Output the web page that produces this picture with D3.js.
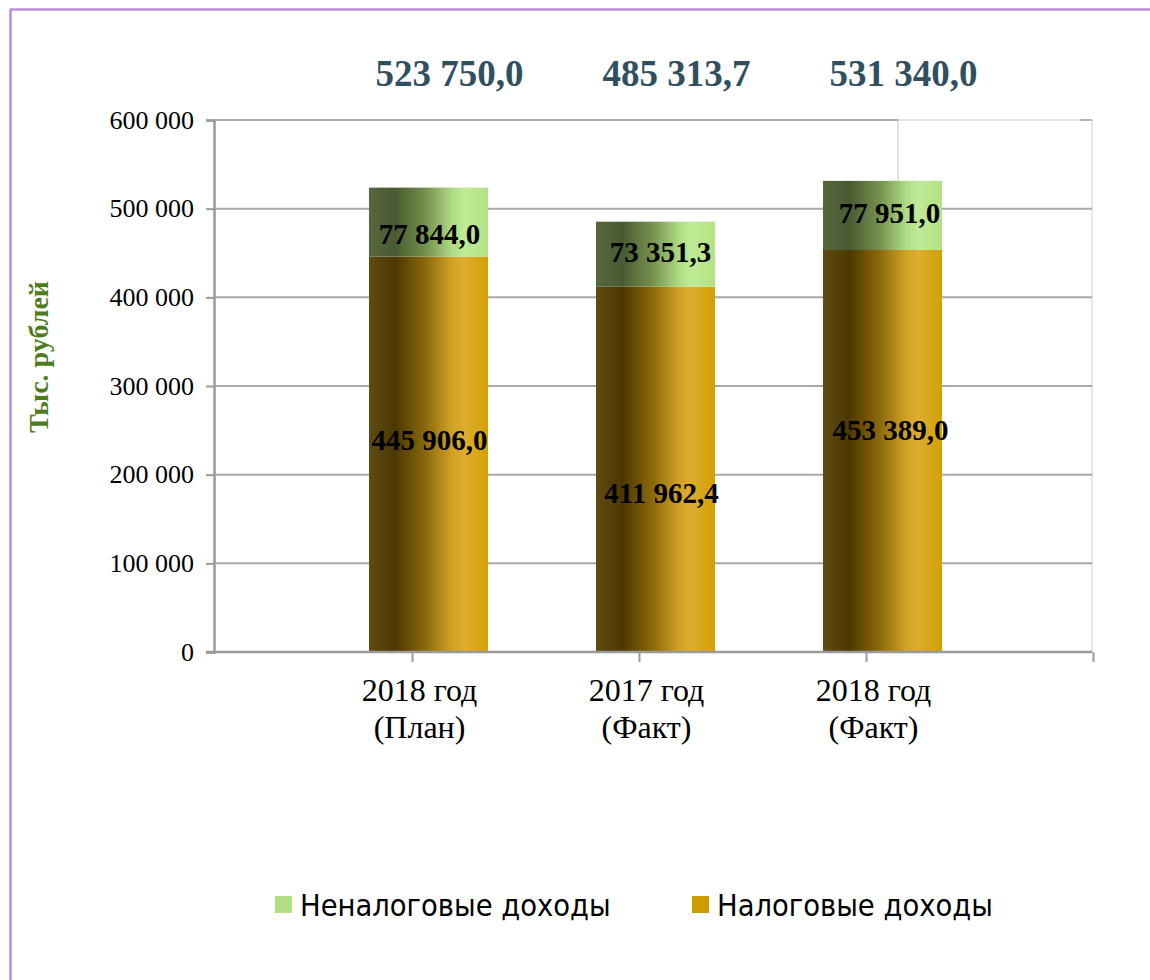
<!DOCTYPE html>
<html>
<head>
<meta charset="utf-8">
<script src="https://cdn.jsdelivr.net/npm/d3@7"></script>
<style>
  html, body { margin: 0; padding: 0; background: #ffffff; }
  svg { display: block; }
</style>
</head>
<body>
<svg id="chart" width="1150" height="980"></svg>
<script>
// ---------- data ----------
const categories = ["2018 год (План)", "2017 год (Факт)", "2018 год (Факт)"];
const categoryLine1 = ["2018 год", "2017 год", "2018 год"];
const categoryLine2 = ["(План)", "(Факт)", "(Факт)"];
const taxIncome = [445906.0, 411962.4, 453389.0];     // Налоговые доходы
const nonTaxIncome = [77844.0, 73351.3, 77951.0];     // Неналоговые доходы
const totals = [523750.0, 485313.7, 531340.0];
const yTickValues = [0, 100000, 200000, 300000, 400000, 500000, 600000];
const seriesNames = ["Неналоговые доходы", "Налоговые доходы"];
const yAxisTitle = "Тыс. рублей";

// ---------- setup ----------
const svg = d3.select("#chart");
const ru = d3.formatLocale({ decimal: ",", thousands: " ", grouping: [3], currency: ["", ""] });
const fmtVal = ru.format(",.1f");
const fmtTick = ru.format(",d");

const plot = { left: 214, right: 1092, top: 120, bottom: 652 };
const y = d3.scaleLinear().domain([0, 600000]).range([plot.bottom, plot.top]);
const x = d3.scaleBand().domain(categories).range([315, 996]).paddingInner(0.4758).paddingOuter(0.2379);
const cx = c => x(c) + x.bandwidth() / 2;

// frame border (purple)
svg.append("line").attr("x1", 10).attr("x2", 1150).attr("y1", 9.5).attr("y2", 9.5)
  .attr("stroke", "#b88dd4").attr("stroke-width", 2.5);
svg.append("line").attr("x1", 10.5).attr("x2", 10.5).attr("y1", 9).attr("y2", 980)
  .attr("stroke", "#b88dd4").attr("stroke-width", 2.5);

// gradients
const defs = svg.append("defs");
function grad(id, stops) {
  const g = defs.append("linearGradient").attr("id", id)
    .attr("x1", "0%").attr("x2", "100%").attr("y1", "0%").attr("y2", "0%");
  stops.forEach(s => g.append("stop").attr("offset", s[0]).attr("stop-color", s[1]));
}
grad("gGreen", [["0%", "#56673c"], ["22%", "#4a5a32"], ["48%", "#76924f"], ["70%", "#b0dc84"], ["80%", "#c0ea97"], ["100%", "#b4e283"]]);
grad("gGold", [["0%", "#5e4b14"], ["22%", "#4c3800"], ["48%", "#8c6a0c"], ["70%", "#d2a227"], ["80%", "#dcad30"], ["100%", "#d5a000"]]);

// back wall light lines (3D remnants)
svg.append("line").attr("x1", 898).attr("x2", plot.right).attr("y1", plot.top).attr("y2", plot.top)
  .attr("stroke", "#e8e5de").attr("stroke-width", 2);
svg.append("line").attr("x1", 898).attr("x2", 898).attr("y1", plot.top).attr("y2", y(totals[2]))
  .attr("stroke", "#e3e0d8").attr("stroke-width", 2);
svg.append("line").attr("x1", plot.right).attr("x2", plot.right).attr("y1", plot.top).attr("y2", plot.bottom)
  .attr("stroke", "#e8e5de").attr("stroke-width", 2);

// gridlines
svg.append("g").selectAll("line").data(yTickValues.filter(v => v > 0)).join("line")
  .attr("x1", plot.left)
  .attr("x2", d => d === 600000 ? 898 : plot.right)
  .attr("y1", d => y(d)).attr("y2", d => y(d))
  .attr("stroke", "#a9a9a9").attr("stroke-width", 2);
svg.append("line").attr("x1", 1080).attr("x2", plot.right).attr("y1", plot.top).attr("y2", plot.top)
  .attr("stroke", "#b5b5b5").attr("stroke-width", 2);

// y axis
const yAxis = d3.axisLeft(y).tickValues(yTickValues).tickFormat(fmtTick).tickSize(8).tickPadding(12);
const gy = svg.append("g").attr("transform", `translate(${plot.left},0)`).call(yAxis);
gy.select(".domain").attr("stroke", "#9a9a9a").attr("stroke-width", 2.5);
gy.selectAll(".tick line").attr("stroke", "#9a9a9a").attr("stroke-width", 2);
gy.selectAll(".tick text").attr("font-family", "'Liberation Serif', 'Times New Roman', serif")
  .attr("font-size", 26).attr("fill", "#000");

// bars
const gb = svg.append("g");
categories.forEach((c, i) => {
  gb.append("rect").attr("x", x(c)).attr("width", x.bandwidth())
    .attr("y", y(taxIncome[i])).attr("height", y(0) - y(taxIncome[i]))
    .attr("fill", "url(#gGold)");
  gb.append("rect").attr("x", x(c)).attr("width", x.bandwidth())
    .attr("y", y(taxIncome[i] + nonTaxIncome[i])).attr("height", y(taxIncome[i]) - y(taxIncome[i] + nonTaxIncome[i]))
    .attr("fill", "url(#gGreen)");
});

// x axis
svg.append("line").attr("x1", plot.left - 8).attr("x2", plot.right).attr("y1", plot.bottom).attr("y2", plot.bottom)
  .attr("stroke", "#9a9a9a").attr("stroke-width", 2.5);
const tickXs = categories.map(c => cx(c) - 16).concat([cx(categories[2]) - 16 + x.step()]);
svg.append("g").selectAll("line").data(tickXs).join("line")
  .attr("x1", d => d).attr("x2", d => d).attr("y1", plot.bottom).attr("y2", plot.bottom + 10)
  .attr("stroke", "#9a9a9a").attr("stroke-width", 2);

const serif = "'Liberation Serif', 'Times New Roman', serif";
const gx = svg.append("g").attr("font-family", serif).attr("font-size", 32).attr("fill", "#000").attr("text-anchor", "middle");
categories.forEach((c, i) => {
  gx.append("text").attr("x", cx(c) - 9).attr("y", 701).text(categoryLine1[i]);
  gx.append("text").attr("x", cx(c) - 9).attr("y", 738).text(categoryLine2[i]);
});

// segment labels
const nonTaxDy = [22, 8, 8];
const taxDy = [-4, 34, -11];
const taxDx = [1, 6, 8];
const nonTaxDx = [1, 5, 7];
const gl = svg.append("g").attr("font-family", serif).attr("font-size", 29).attr("font-weight", "bold")
  .attr("fill", "#000").attr("text-anchor", "middle");
categories.forEach((c, i) => {
  const midN = y(taxIncome[i] + nonTaxIncome[i] / 2);
  gl.append("text").attr("x", cx(c) + nonTaxDx[i]).attr("y", midN + nonTaxDy[i]).text(fmtVal(nonTaxIncome[i]));
  const midT = y(taxIncome[i] / 2);
  gl.append("text").attr("x", cx(c) + taxDx[i]).attr("y", midT + taxDy[i]).text(fmtVal(taxIncome[i]));
});

// totals on top
const gt = svg.append("g").attr("font-family", serif).attr("font-size", 37).attr("font-weight", "bold")
  .attr("fill", "#30505f").attr("text-anchor", "middle");
categories.forEach((c, i) => {
  gt.append("text").attr("x", cx(c) + 21).attr("y", 86).text(fmtVal(totals[i]));
});

// y axis title
svg.append("text").attr("transform", "translate(48,357) rotate(-90)")
  .attr("text-anchor", "middle").attr("font-family", serif).attr("font-size", 28)
  .attr("font-weight", "bold").attr("fill", "#4e7c1c").text(yAxisTitle);

// legend
const legendColors = ["#b4de84", "#cf9c00"];
const legendX = [275, 692];
const gLeg = svg.append("g").attr("font-family", "'DejaVu Sans Condensed', 'DejaVu Sans', sans-serif")
  .attr("font-size", 30.5).attr("fill", "#000");
seriesNames.forEach((s, i) => {
  gLeg.append("rect").attr("x", legendX[i]).attr("y", 896).attr("width", 17).attr("height", 17).attr("fill", legendColors[i]);
  gLeg.append("text").attr("x", legendX[i] + 25).attr("y", 916).text(s);
});
</script>
</body>
</html>
